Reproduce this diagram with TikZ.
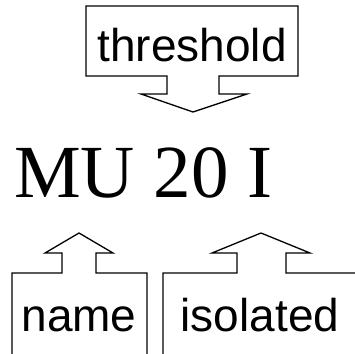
\documentclass[tikz,border=0pt]{standalone}
\usepackage{fontspec}
\setmainfont{Liberation Serif}
\newfontfamily\labelfont{Liberation Sans}
\begin{document}
\begin{tikzpicture}[x=1pt,y=-1pt,
  callout/.style={draw=black,line width=1.3pt,line join=miter,fill=none},
  lbl/.style={inner sep=0pt,anchor=base,font=\labelfont\fontsize{46}{50}\selectfont},
  big/.style={inner sep=0pt,anchor=base west,font=\fontsize{75}{80}\selectfont}]
\useasboundingbox (0,0) rectangle (355,353);
\begin{scope}
\clip (0,0) rectangle (355,353);
% threshold callout (pointing down)
\draw[callout] (86,6) -- (298,6) -- (298,76) -- (219,76) -- (219,94) -- (247,94)
  -- (193,112) -- (141,94) -- (167,94) -- (167,76) -- (86,76) -- cycle;
% name callout (pointing up)
\draw[callout] (12,360) -- (12,273) -- (62,273) -- (62,253) -- (45,253) -- (79,233)
  -- (113,253) -- (96,253) -- (96,273) -- (147,273) -- (147,360);
% isolated callout (pointing up)
\draw[callout] (163,360) -- (163,273) -- (237,273) -- (237,253) -- (212,253) -- (261,233)
  -- (310,253) -- (286,253) -- (286,273) -- (365,273);
\end{scope}
\node[lbl] (threshold) at (192,61) {threshold};
\node[big] (mu) at (14,197) {MU 20 I};
\node[lbl] (name) at (79,331) {name};
\node[lbl] (isolated) at (260,331) {isolated};
\end{tikzpicture}
\end{document}
